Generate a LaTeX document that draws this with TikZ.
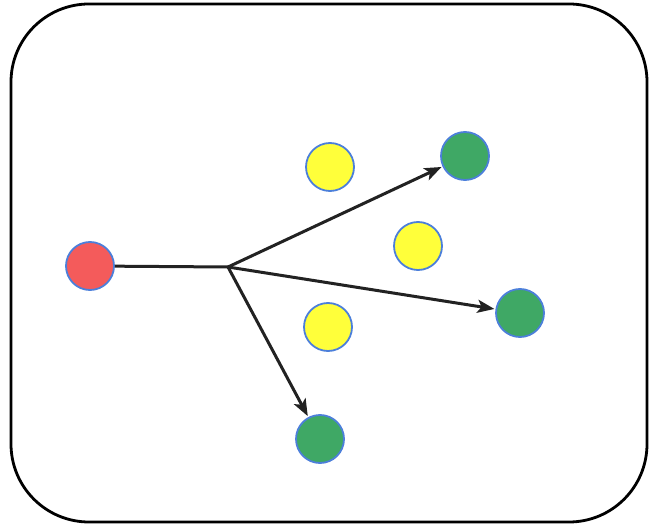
\documentclass[tikz,border=0pt]{standalone}
\usetikzlibrary{arrows.meta}
\definecolor{dotred}{HTML}{F45B5B}
\definecolor{dotgreen}{HTML}{3FA865}
\definecolor{dotyellow}{HTML}{FFFF3A}
\definecolor{rimblue}{HTML}{4C7FDA}
\definecolor{shaft}{HTML}{222222}
\begin{document}
\begin{tikzpicture}[x=1pt,y=-1pt,
  dot/.style={circle,draw=rimblue,line width=1.8pt,minimum size=48pt,inner sep=0pt},
  source/.style={dot,fill=dotred},
  target/.style={dot,fill=dotgreen},
  other/.style={dot,fill=dotyellow},
  link/.style={shaft,line width=3pt},
  ray/.style={link,-{Stealth[length=17pt,width=13pt,inset=4pt]},shorten >=1pt}]
\useasboundingbox (0,0) rectangle (650,526);
% frame
\draw[line width=2.8pt,rounded corners=78pt] (11,4) rectangle (647,522);
% particles
\node[source] (r) at (90,266) {};
\node[target] (g1) at (465,156) {};
\node[target] (g2) at (520,313) {};
\node[target] (g3) at (320,439) {};
\node[other] (y1) at (330,167) {};
\node[other] (y2) at (418,246) {};
\node[other] (y3) at (328,327) {};
\coordinate (b) at (228,267);
% paths
\draw[link] (r) -- (b);
\draw[ray] (b) -- (g1);
\draw[ray] (b) -- (g2);
\draw[ray] (b) -- (g3);
\end{tikzpicture}
\end{document}
